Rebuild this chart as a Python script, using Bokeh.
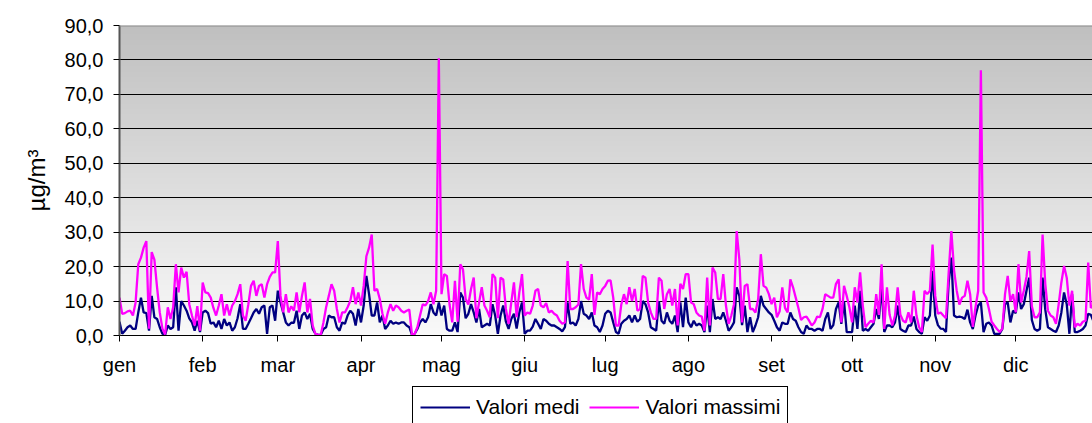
import numpy as np
from bokeh.plotting import figure
from bokeh.layouts import column
from bokeh.models import Range1d, FixedTicker, Legend, LegendItem, Span
from bokeh.embed import file_html
from bokeh.resources import INLINE

# ---------------- data ----------------
mesi = ["gen", "feb", "mar", "apr", "mag", "giu", "lug", "ago", "set", "ott", "nov", "dic"]
mesi_inizio = [0, 31, 59, 90, 120, 151, 181, 212, 243, 273, 304, 334]
y_ticks = [0, 10, 20, 30, 40, 50, 60, 70, 80, 90]
y_labels = ["0,0", "10,0", "20,0", "30,0", "40,0", "50,0", "60,0", "70,0", "80,0", "90,0"]
serie = ["Valori medi", "Valori massimi"]

massimi = [
    11.0, 6.3, 6.5, 7.0, 7.2, 5.8, 9.6, 20.7, 22.6, 25.5,
    27.4, 2.0, 24.2, 22.0, 14.0, 6.7, 2.0, 0.3, 8.2, 4.8,
    8.2, 20.7, 12.5, 19.7, 16.8, 18.5, 9.1, 5.8, 2.9, 8.5,
    1.4, 15.4, 12.5, 12.3, 11.0, 8.0, 5.8, 8.7, 12.0, 5.8,
    9.1, 5.8, 8.7, 10.0, 12.0, 14.9, 5.8, 4.3, 9.0, 14.4,
    15.9, 11.5, 14.4, 14.9, 11.0, 14.9, 17.0, 18.3, 18.3, 27.4,
    11.5, 6.7, 12.0, 6.7, 8.5, 7.2, 12.5, 6.7, 11.5, 15.4,
    6.7, 10.6, 2.9, 0.5, 0.2, 0.2, 3.8, 8.2, 11.5, 14.9,
    13.0, 7.7, 3.8, 6.7, 6.7, 8.2, 10.0, 14.0, 9.1, 12.5,
    8.7, 14.4, 23.0, 25.5, 29.3, 13.0, 13.5, 10.6, 6.3, 3.4,
    6.7, 9.1, 7.2, 8.7, 8.2, 7.2, 6.7, 7.2, 7.5, 0.2,
    0.5, 2.4, 5.8, 9.1, 8.7, 10.0, 12.5, 9.1, 13.0, 80.5,
    12.0, 17.8, 17.3, 9.0, 3.8, 15.9, 4.0, 20.7, 19.2, 10.6,
    9.0, 13.5, 16.8, 5.0, 9.6, 14.0, 8.7, 7.2, 5.3, 17.8,
    16.8, 5.0, 16.8, 16.3, 7.7, 3.4, 9.6, 15.4, 5.3, 12.5,
    17.8, 5.8, 6.7, 6.3, 8.7, 13.0, 13.5, 8.7, 8.2, 9.4,
    6.7, 7.2, 6.3, 5.8, 4.3, 3.4, 3.8, 21.6, 7.7, 7.7,
    8.2, 9.0, 20.7, 13.5, 11.0, 10.4, 17.8, 6.0, 12.5, 12.0,
    13.5, 14.4, 15.9,
    16.0, 11.0, 2.9, 2.9, 9.0, 12.0, 9.1, 14.0, 10.0, 13.5,
    7.2, 7.7, 17.3, 16.8, 9.6, 6.7, 4.8, 4.8, 16.8, 15.9,
    7.7, 12.0, 13.5, 8.7, 13.5, 2.9, 15.0, 13.5, 17.8, 17.8,
    9.6, 9.1, 6.7, 5.8, 5.5, 1.4, 16.8, 2.9, 19.7, 18.3,
    10.6, 10.6, 17.8, 8.7, 3.4, 5.8, 9.1, 30.3, 22.0, 3.8,
    14.4, 14.9, 7.7, 7.7, 6.7, 10.6, 23.6, 14.4, 13.9, 12.0,
    9.1,
    11.0, 5.3, 7.0, 14.0, 8.0, 6.7, 16.3, 14.0, 11.0, 8.0,
    4.5, 5.3, 5.5, 4.3, 2.9, 3.8, 5.5, 5.3, 7.7, 12.0,
    11.5, 11.0, 11.0, 15.0, 16.3, 3.8, 14.4, 11.5, 8.2, 3.8,
    14.0, 9.6, 18.3, 8.7, 2.4, 3.4, 4.3, 3.8, 12.0, 6.0,
    20.7, 1.9, 14.0, 6.0, 2.9, 5.8, 14.0, 6.0, 4.3, 3.8,
    6.7, 3.8, 13.0, 5.8, 2.4, 1.0, 13.0, 12.0, 13.0, 26.4,
    11.5, 6.3,
    6.7, 5.8, 5.0, 18.3, 30.3, 19.0, 13.0, 9.0, 11.0, 11.5,
    15.9, 12.0, 2.5, 8.2, 13.0, 77.0, 12.5, 11.0, 7.7, 4.0,
    2.9, 1.9, 1.0, 2.0, 12.0, 17.3, 10.0, 12.0, 6.7, 20.7,
    9.6, 13.0, 17.0, 24.5, 8.5, 5.3, 5.3, 6.7, 29.3, 15.0,
    7.2, 5.8, 5.3, 3.4, 9.1, 15.4, 20.2, 16.8, 8.7, 13.0,
    2.4, 3.4, 2.9, 4.0, 4.3, 21.2, 8.0, 9.0, 8.0,
]

medi = [
    4.0, 0.5, 1.4, 2.4, 2.9, 1.9, 1.9, 6.7, 11.0, 6.7,
    6.5, 1.4, 11.5, 5.3, 4.8, 2.4, 0.5, 0.2, 2.9, 1.9,
    2.4, 14.0, 1.4, 10.0, 8.7, 7.2, 5.0, 3.8, 1.4, 4.3,
    1.0, 6.7, 7.2, 6.5, 3.4, 3.8, 2.4, 4.3, 1.9, 4.8,
    2.9, 3.8, 1.4, 2.4, 5.0, 9.1, 1.9, 1.9, 3.4, 5.0,
    6.7, 7.7, 6.3, 8.2, 8.7, 0.5, 8.2, 8.7, 4.3, 13.0,
    9.6, 6.7, 3.8, 2.9, 3.7, 3.7, 7.2, 1.9, 5.8, 6.7,
    4.8, 6.3, 1.9, 0.5, 0.2, 0.2, 1.9, 2.4, 5.8, 5.3,
    5.3, 2.4, 1.4, 3.8, 3.4, 5.8, 7.2, 6.3, 2.9, 7.7,
    3.8, 8.7, 17.3, 12.0, 5.8, 5.8, 9.6, 3.8, 5.8, 1.9,
    2.9, 4.3, 3.4, 3.8, 3.4, 3.8, 3.8, 2.9, 2.4, 0.2,
    0.5, 1.9, 3.8, 4.8, 3.8, 5.3, 9.1, 6.7, 5.8, 9.6,
    5.8, 8.7, 1.9, 1.4, 1.4, 3.8, 1.0, 12.5, 11.0, 5.0,
    6.3, 9.1, 6.7, 3.8, 7.7, 2.4, 2.9, 3.4, 2.9, 9.1,
    5.8, 0.5, 5.8, 8.7, 4.0, 1.9, 4.8, 6.3, 2.0, 6.7,
    9.6, 0.5, 1.4, 1.4, 2.6, 4.8, 3.4, 1.9, 4.8, 4.3,
    3.4, 2.9, 2.9, 2.4, 1.9, 1.2, 2.4, 9.6, 3.4, 3.8,
    2.9, 4.8, 10.0, 6.3, 5.8, 4.8, 6.7, 2.9, 2.4, 1.0,
    2.9, 6.3, 7.2,
    6.7, 3.8, 1.0, 0.5, 3.4, 4.3, 4.8, 5.8, 3.8, 5.8,
    4.0, 4.8, 10.0, 9.1, 6.7, 2.4, 1.9, 1.4, 10.0, 4.3,
    3.4, 6.7, 4.3, 3.4, 5.8, 1.0, 9.6, 2.4, 11.0, 3.8,
    2.4, 4.3, 2.9, 3.4, 2.9, 1.0, 8.7, 1.0, 10.6, 4.8,
    5.3, 4.8, 6.7, 4.3, 1.4, 2.4, 3.8, 14.0, 11.5, 3.0,
    8.7, 1.0, 5.3, 1.0, 2.9, 5.3, 11.5, 8.7, 7.7, 6.7,
    6.0,
    4.3, 2.4, 1.4, 3.8, 3.4, 3.4, 6.7, 4.8, 4.3, 2.4,
    1.0, 0.5, 2.9, 1.9, 1.9, 1.4, 1.9, 1.9, 1.4, 4.8,
    6.7, 1.9, 3.0, 7.7, 9.6, 3.4, 10.0, 1.0, 1.0, 1.0,
    8.7, 1.9, 13.0, 1.4, 1.9, 1.4, 2.4, 3.4, 7.7, 4.8,
    14.4, 1.0, 2.9, 2.9, 2.4, 3.8, 8.7, 1.9, 1.4, 1.0,
    2.9, 2.9, 5.5, 1.9, 1.0, 0.5, 5.3, 4.3, 5.8, 18.8,
    5.8, 3.0,
    2.0, 1.9, 1.0, 15.4, 22.6, 5.8, 5.3, 5.5, 5.3, 4.8,
    7.5, 3.8, 1.9, 5.8, 8.7, 9.6, 1.0, 3.4, 3.8, 2.9,
    0.5, 0.5, 0.5, 1.9, 9.1, 9.6, 3.8, 7.2, 6.5, 12.5,
    7.7, 9.1, 13.0, 16.8, 4.5, 1.9, 1.4, 1.9, 16.8, 7.5,
    2.4, 1.9, 1.4, 1.0, 2.9, 6.7, 12.5, 9.1, 0.5, 12.0,
    1.0, 1.0, 1.4, 1.9, 2.9, 6.3, 6.0, 4.0, 3.0,
]

giorni = list(range(len(medi)))

FONT = "Liberation Sans"
NAVY = "#000080"
MAGENTA = "#ff00ff"

p = figure(width=1092, height=380, output_backend="svg", toolbar_location=None,
           x_range=Range1d(0, 362.6), y_range=Range1d(0, 90),
           min_border_left=119, min_border_right=0, min_border_top=25,
           min_border_bottom=45)
p.background_fill_color = "white"
p.border_fill_color = "white"
p.outline_line_color = None

# gradient background (grey at top -> near white at bottom), decorative only
rows = 310
g = np.linspace(249, 191, rows).round().astype(np.uint32)
rgba = (255 << 24) | (g << 16) | (g << 8) | g
img = rgba.reshape(rows, 1).view(np.uint32)
p.image_rgba(image=[img], x=0, y=0, dw=400, dh=90, level="image")

# grid
p.xgrid.visible = False
p.ygrid.ticker = FixedTicker(ticks=[10, 20, 30, 40, 50, 60, 70, 80])
p.ygrid.grid_line_color = "black"
p.ygrid.grid_line_width = 1
p.add_layout(Span(location=90, dimension="width", line_color="#8c8c8c", line_width=2))

# series
p.line(giorni, medi, line_color=NAVY, line_width=2.3)
p.line(giorni, massimi, line_color=MAGENTA, line_width=2.3)

# axes
p.xaxis.ticker = FixedTicker(ticks=mesi_inizio)
p.xaxis.major_label_overrides = {t: m for t, m in zip(mesi_inizio, mesi)}
p.yaxis.ticker = FixedTicker(ticks=y_ticks)
p.yaxis.major_label_overrides = {t: l for t, l in zip(y_ticks, y_labels)}
for ax in (p.xaxis[0], p.yaxis[0]):
    ax.major_label_text_font = FONT
    ax.major_label_text_font_size = "20px"
    ax.major_label_text_color = "black"
    ax.major_tick_out = 6
    ax.major_tick_in = 0
    ax.minor_tick_line_color = None
    ax.major_tick_line_color = "black"
p.xaxis.axis_line_color = "black"
p.xaxis.major_label_standoff = 12
p.yaxis.axis_line_color = "#555555"
p.yaxis.axis_line_width = 2
p.yaxis.major_label_standoff = 10
p.yaxis.axis_label = "µg/m³"
p.yaxis.axis_label_text_font = FONT
p.yaxis.axis_label_text_font_size = "24px"
p.yaxis.axis_label_text_font_style = "normal"
p.yaxis.axis_label_text_color = "black"
p.yaxis.axis_label_standoff = 12

# legend strip below the chart (box runs past the bottom edge, as in the reference)
leg = figure(width=1092, height=43, output_backend="svg", toolbar_location=None,
             x_axis_type=None, y_axis_type=None,
             x_range=Range1d(0, 1), y_range=Range1d(0, 1),
             min_border_left=0, min_border_right=0, min_border_top=0, min_border_bottom=0)
leg.outline_line_color = None
leg.background_fill_color = "white"
leg.border_fill_color = "white"
leg.xgrid.visible = False
leg.ygrid.visible = False
nan = [float("nan")]
lr1 = leg.line(nan, nan, line_color=NAVY, line_width=2)
lr2 = leg.line(nan, nan, line_color=MAGENTA, line_width=2)
legend = Legend(items=[LegendItem(label=serie[0], renderers=[lr1]),
                       LegendItem(label=serie[1], renderers=[lr2])],
                orientation="horizontal", location=(293, -5),
                glyph_width=50, glyph_height=26, label_height=26,
                label_standoff=6, spacing=10, padding=7, margin=0,
                label_text_font=FONT, label_text_font_size="21px",
                label_text_color="black",
                border_line_color="black", border_line_width=1, border_line_alpha=1.0,
                background_fill_color="white", background_fill_alpha=1.0)
leg.add_layout(legend)

layout = column(p, leg, spacing=0)
open("out.html", "w").write(file_html(layout, INLINE))
